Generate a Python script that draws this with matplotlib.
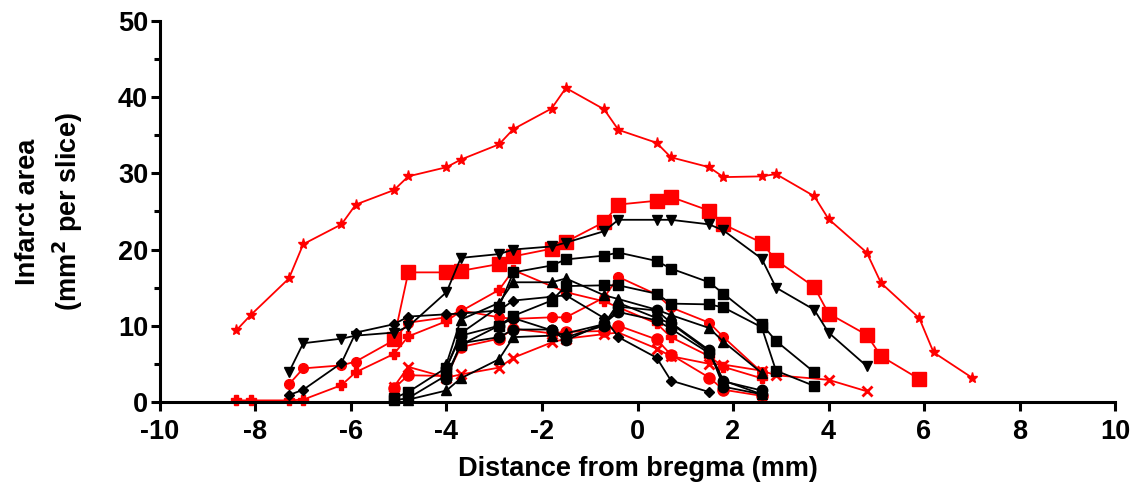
import matplotlib.pyplot as plt
from matplotlib.ticker import MultipleLocator

plt.rcParams['font.family'] = ['Liberation Sans', 'DejaVu Sans']
plt.rcParams['font.weight'] = 'bold'
plt.rcParams['axes.unicode_minus'] = False

# red series
star_x = [-8.4, -8.1, -7.3, -7.0, -6.2, -5.9, -5.1, -4.8, -4.0, -3.7, -2.9, -2.6, -1.8, -1.5,
          -0.7, -0.4, 0.4, 0.7, 1.5, 1.8, 2.6, 2.9, 3.7, 4.0, 4.8, 5.1, 5.9, 6.2, 7.0]
star_y = [9.4, 11.4, 16.2, 20.7, 23.3, 25.9, 27.8, 29.6, 30.8, 31.8, 33.8, 35.8, 38.5, 41.2,
          38.4, 35.7, 34.0, 32.1, 30.8, 29.5, 29.6, 29.9, 27.0, 24.0, 19.6, 15.6, 11.0, 6.5, 3.2]

rsq_x = [-5.1, -4.8, -4.0, -3.7, -2.9, -2.6, -1.8, -1.5, -0.7, -0.4, 0.4, 0.7, 1.5, 1.8,
         2.6, 2.9, 3.7, 4.0, 4.8, 5.1, 5.9]
rsq_y = [8.3, 17.0, 17.0, 17.2, 18.1, 19.1, 20.1, 21.0, 23.6, 25.9, 26.4, 26.9, 25.1, 23.3,
         20.9, 18.6, 15.1, 11.6, 8.8, 6.0, 3.0]

rplus_x = [-8.4, -8.1, -7.3, -7.0, -6.2, -5.9, -5.1, -4.8, -4.0, -3.7, -2.9, -2.6, -1.5,
           -0.7, 0.4, 0.7, 1.5, 1.8, 2.6]
rplus_y = [0.2, 0.2, 0.2, 0.3, 2.2, 3.9, 6.3, 8.6, 10.6, 11.9, 14.7, 17.3, 14.4,
           13.2, 10.3, 8.5, 6.0, 4.6, 3.1]

rcirc1_x = [-7.3, -7.0, -6.2, -5.9, -5.1, -4.8, -4.0, -3.7, -2.9, -2.6, -1.8, -1.5, -0.7,
            -0.4, 0.4, 0.7, 1.5, 1.8, 2.6]
rcirc1_y = [2.3, 4.4, 4.8, 5.3, 8.1, 10.4, 11.1, 12.0, 11.1, 10.9, 11.1, 11.1, 13.7,
            16.4, 14.1, 12.4, 10.4, 8.5, 3.9]

rcirc2_x = [-5.1, -4.8, -4.0, -3.7, -2.9, -2.6, -1.8, -1.5, -0.7, -0.4, 0.4, 0.7, 1.5, 1.8, 2.6]
rcirc2_y = [1.8, 3.5, 3.4, 7.2, 8.3, 9.6, 9.0, 9.2, 9.3, 10.0, 8.2, 6.2, 3.2, 1.6, 0.8]

rx_x = [-5.1, -4.8, -4.0, -3.7, -2.9, -2.6, -1.8, -1.5, -0.7, -0.4, 0.4, 0.7, 1.5, 1.8,
        2.6, 2.9, 4.0, 4.8]
rx_y = [2.0, 4.6, 3.2, 3.6, 4.5, 5.8, 7.8, 8.3, 8.9, 9.1, 7.0, 6.0, 5.0, 4.9,
        4.1, 3.5, 2.9, 1.4]

# black series
tri_dn_x = [-7.3, -7.0, -6.2, -5.9, -5.1, -4.8, -4.0, -3.7, -2.9, -2.6, -1.8, -1.5, -0.7,
            -0.4, 0.4, 0.7, 1.5, 1.8, 2.6, 2.9, 3.7, 4.0, 4.8]
tri_dn_y = [3.9, 7.7, 8.3, 8.7, 9.1, 9.9, 14.4, 18.9, 19.4, 20.0, 20.4, 20.9, 22.4,
            23.9, 23.9, 23.9, 23.3, 22.5, 18.8, 15.0, 12.1, 9.1, 4.7]

bsq1_x = [-5.1, -4.8, -4.0, -3.7, -2.9, -2.6, -1.8, -1.5, -0.7, -0.4, 0.4, 0.7, 1.5, 1.8,
          2.6, 2.9, 3.7]
bsq1_y = [0.5, 1.3, 4.5, 9.0, 12.5, 17.0, 17.9, 18.7, 19.2, 19.6, 18.5, 17.5, 15.7, 14.2,
          10.2, 8.0, 3.9]

bsq2_x = [-5.1, -4.8, -4.0, -3.7, -2.9, -2.6, -1.8, -1.5, -0.7, -0.4, 0.4, 0.7, 1.5, 1.8,
          2.6, 2.9, 3.7]
bsq2_y = [0.2, 0.5, 3.5, 7.5, 10.0, 11.3, 13.3, 15.2, 15.3, 15.3, 14.2, 12.9, 12.8, 12.4,
          9.8, 4.1, 2.1]

tri_up1_x = [-4.0, -3.7, -2.9, -2.6, -1.8, -1.5, -0.7, -0.4, 0.4, 0.7, 1.5, 1.8, 2.6]
tri_up1_y = [5.0, 10.8, 13.0, 15.7, 15.7, 16.2, 14.0, 13.5, 12.1, 11.4, 9.7, 7.9, 3.8]

tri_up2_x = [-4.8, -4.0, -3.7, -2.9, -2.6, -1.8, -1.5, -0.7, -0.4, 0.4, 0.7, 1.5, 1.8, 2.6]
tri_up2_y = [0.3, 1.5, 3.1, 5.6, 8.5, 8.7, 9.0, 10.2, 13.0, 11.0, 10.3, 6.6, 2.8, 1.0]

dia_x = [-7.3, -7.0, -6.2, -5.9, -5.1, -4.8, -4.0, -3.7, -2.9, -2.6, -1.8, -1.5, -0.7,
         -0.4, 0.4, 0.7, 1.5]
dia_y = [0.9, 1.6, 5.1, 9.1, 10.2, 11.2, 11.5, 11.6, 12.0, 13.3, 13.8, 14.0, 11.0,
         8.5, 5.8, 2.8, 1.3]

bcirc1_x = [-4.0, -3.7, -2.9, -2.6, -1.8, -1.5, -0.7, -0.4, 0.4, 0.7, 1.5, 1.8, 2.6]
bcirc1_y = [4.5, 8.7, 10.0, 11.0, 9.4, 8.1, 10.3, 11.8, 10.7, 9.6, 6.4, 2.7, 1.5]

bcirc2_x = [-4.0, -3.7, -2.9, -2.6, -1.8, -1.5, -0.7, -0.4, 0.4, 0.7, 1.5, 1.8, 2.6]
bcirc2_y = [3.0, 7.7, 8.5, 9.5, 9.5, 8.5, 10.0, 12.5, 12.0, 10.4, 6.8, 2.0, 1.0]

series = [
    (star_x, star_y, 'red', '*', 8),
    (rsq_x, rsq_y, 'red', 's', 10),
    (rplus_x, rplus_y, 'red', 'P', 7),
    (rcirc1_x, rcirc1_y, 'red', 'o', 7),
    (rcirc2_x, rcirc2_y, 'red', 'o', 8),
    (rx_x, rx_y, 'red', 'x', 7),
    (tri_dn_x, tri_dn_y, 'black', 'v', 7.5),
    (bsq1_x, bsq1_y, 'black', 's', 7.5),
    (bsq2_x, bsq2_y, 'black', 's', 7.5),
    (tri_up1_x, tri_up1_y, 'black', '^', 7.5),
    (tri_up2_x, tri_up2_y, 'black', '^', 7.5),
    (dia_x, dia_y, 'black', 'D', 5.5),
    (bcirc1_x, bcirc1_y, 'black', 'o', 7.5),
    (bcirc2_x, bcirc2_y, 'black', 'o', 7.5),
]

fig = plt.figure(figsize=(11.37, 4.86), dpi=100)
ax = fig.add_axes([0.1407, 0.173, 0.84, 0.784])

for x, y, c, m, ms in series:
    mew = 2 if m == 'x' else 1
    ax.plot(x, y, color=c, marker=m, markersize=ms, linewidth=1.3,
            markeredgewidth=mew, clip_on=False)

ax.set_xlim(-10, 10)
ax.set_ylim(0, 50)
ax.xaxis.set_major_locator(MultipleLocator(2))
ax.yaxis.set_major_locator(MultipleLocator(10))
ax.yaxis.set_minor_locator(MultipleLocator(5))

for side in ['top', 'right']:
    ax.spines[side].set_visible(False)
for side in ['left', 'bottom']:
    ax.spines[side].set_linewidth(2.2)

ax.tick_params(axis='both', which='major', length=6.5, width=2.2, labelsize=19.5)
ax.tick_params(axis='y', which='major', pad=2)
ax.tick_params(axis='x', which='major', pad=6)
ax.tick_params(axis='y', which='minor', length=4, width=2.2)

ax.set_xlabel("Distance from bregma (mm)", fontsize=19.5, fontweight='bold', labelpad=8)
ax.set_ylabel("Infarct area\n(mm$^\\mathbf{2}$ per slice)", fontsize=19.5, fontweight='bold',
              linespacing=1.35, labelpad=24)

plt.savefig("out.png", dpi=100)
